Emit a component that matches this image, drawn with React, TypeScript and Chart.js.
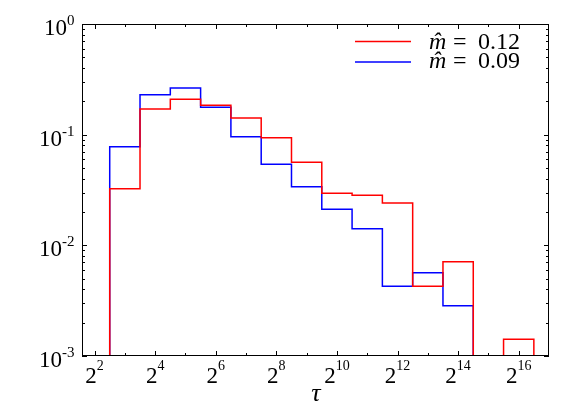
import { useEffect, useRef } from "react";
import { Chart, registerables } from "chart.js";

Chart.register(...registerables);

// Histogram bins centred on τ = 2^k, k = 3..16 (edges at 2^(k±0.5))
const binExponents = [3, 4, 5, 6, 7, 8, 9, 10, 11, 12, 13, 14, 15, 16];
const redValues = [0.0325, 0.171, 0.209, 0.184, 0.1415, 0.094, 0.0563, 0.0295, 0.0283, 0.0241, 0.00426, 0.0071, 0, 0.00142];
const blueValues = [0.0778, 0.23, 0.264, 0.177, 0.096, 0.054, 0.0339, 0.0212, 0.0141, 0.00426, 0.00566, 0.00285, 0, 0];
const seriesLabels = ["0.12", "0.09"];
const seriesColors = ["#ff0000", "#0000ff"];
const xTickExponents = [2, 4, 6, 8, 10, 12, 14, 16];
const xMinorExponents = [3, 5, 7, 9, 11, 13, 15];
const yTickExponents = [0, -1, -2, -3];
const X_MIN = 3;
const X_MAX = 131072;
const Y_MIN = 1e-3;
const Y_MAX = 1;
const ZERO_LEVEL = 1e-4; // below the visible range, clipped away

function buildSteps(values: number[]) {
  let last = values.length - 1;
  while (last >= 0 && values[last] === 0) last--;
  const pts: { x: number; y: number }[] = [];
  pts.push({ x: Math.pow(2, binExponents[0] - 0.5), y: ZERO_LEVEL });
  for (let i = 0; i <= last; i++) {
    pts.push({ x: Math.pow(2, binExponents[i] - 0.5), y: values[i] > 0 ? values[i] : ZERO_LEVEL });
  }
  pts.push({ x: Math.pow(2, binExponents[last] + 0.5), y: ZERO_LEVEL });
  return pts;
}

const SERIF = "'Liberation Serif', 'DejaVu Serif', serif";
const BASE_FONT = 23;
const SUP_FONT = 15;
const LEGEND_FONT = 24;

const decorPlugin = {
  id: "decor",
  afterDatasetsDraw(chart: any) {
    const ctx = chart.ctx as CanvasRenderingContext2D;
    const { left, right, top, bottom } = chart.chartArea;
    const xs = chart.scales.x;
    const ys = chart.scales.y;
    ctx.save();
    ctx.strokeStyle = "#000";
    ctx.lineWidth = 1;
    // frame
    ctx.strokeRect(left + 0.5, top + 0.5, right - left - 1, bottom - top - 1);
    // x ticks
    const xt = (e: number, len: number) => {
      const px = Math.round(xs.getPixelForValue(Math.pow(2, e))) + 0.5;
      ctx.beginPath();
      ctx.moveTo(px, bottom);
      ctx.lineTo(px, bottom - len);
      ctx.moveTo(px, top);
      ctx.lineTo(px, top + len);
      ctx.stroke();
    };
    xTickExponents.forEach((e) => xt(e, 5));
    xMinorExponents.forEach((e) => xt(e, 3));
    // y ticks
    const yt = (v: number, len: number) => {
      const py = Math.round(ys.getPixelForValue(v)) + 0.5;
      ctx.beginPath();
      ctx.moveTo(left, py);
      ctx.lineTo(left + len, py);
      ctx.moveTo(right, py);
      ctx.lineTo(right - len, py);
      ctx.stroke();
    };
    yTickExponents.forEach((e) => {
      yt(Math.pow(10, e), 5);
      if (e < 0) for (let m = 2; m <= 9; m++) yt(m * Math.pow(10, e), 3);
    });
    ctx.fillStyle = "#000";
    ctx.textBaseline = "alphabetic";
    ctx.textAlign = "left";
    // x tick labels
    xTickExponents.forEach((e) => {
      const px = xs.getPixelForValue(Math.pow(2, e));
      ctx.font = `${BASE_FONT}px ${SERIF}`;
      const bw = ctx.measureText("2").width;
      ctx.font = `${SUP_FONT - 1}px ${SERIF}`;
      const sw = ctx.measureText(String(e)).width;
      const x0 = px - (bw + sw) / 2;
      ctx.font = `${BASE_FONT}px ${SERIF}`;
      ctx.fillText("2", x0, bottom + 27);
      ctx.font = `${SUP_FONT - 1}px ${SERIF}`;
      ctx.fillText(String(e), x0 + bw, bottom + 14);
    });
    // y tick labels
    yTickExponents.forEach((e) => {
      const py = ys.getPixelForValue(Math.pow(10, e));
      const sup = e === 0 ? "0" : `-${-e}`;
      ctx.font = `${SUP_FONT}px ${SERIF}`;
      const sw = ctx.measureText(sup).width;
      ctx.font = `${BASE_FONT}px ${SERIF}`;
      const bw = ctx.measureText("10").width;
      const xEnd = left - 7.5;
      ctx.fillText("10", xEnd - sw - bw, py + 11);
      ctx.font = `${SUP_FONT}px ${SERIF}`;
      ctx.fillText(sup, xEnd - sw, py + 1);
    });
    // axis title
    ctx.font = `italic 26px ${SERIF}`;
    ctx.textAlign = "center";
    ctx.fillText("τ", (left + right) / 2 + 0.5, bottom + 45);
    // legend
    chart.data.datasets.forEach((ds: any, i: number) => {
      const ly = 41.5 + i * 20.5;
      const tb = 48.5 + i * 19;
      ctx.strokeStyle = ds.borderColor;
      ctx.lineWidth = 1.5;
      ctx.beginPath();
      ctx.moveTo(355, ly);
      ctx.lineTo(411, ly);
      ctx.stroke();
      ctx.textAlign = "left";
      ctx.font = `italic ${LEGEND_FONT}px ${SERIF}`;
      ctx.fillText("m\u0302", 429, tb);
      ctx.font = `${LEGEND_FONT}px ${SERIF}`;
      ctx.fillText("=", 453, tb);
      ctx.fillText(ds.label, 478, tb);
    });
    ctx.restore();
  },
};

export default function App() {
  const ref = useRef<HTMLCanvasElement | null>(null);
  useEffect(() => {
    document.body.style.margin = "0";
    const canvas = ref.current!;
    const chart = new Chart(canvas, {
      type: "line",
      data: {
        datasets: [redValues, blueValues].map((vals, i) => ({
          label: seriesLabels[i],
          data: buildSteps(vals),
          borderColor: seriesColors[i],
          backgroundColor: seriesColors[i],
          borderWidth: 1.5,
          stepped: "before" as const,
          pointRadius: 0,
          fill: false,
          clip: 0,
        })),
      },
      options: {
        responsive: false,
        animation: false,
        devicePixelRatio: 1,
        layout: { padding: { left: 82, right: 32, top: 24, bottom: 51 } },
        plugins: { legend: { display: false }, tooltip: { enabled: false } },
        scales: {
          x: { type: "logarithmic", min: X_MIN, max: X_MAX, display: false },
          y: { type: "logarithmic", min: Y_MIN, max: Y_MAX, display: false },
        },
      },
      plugins: [decorPlugin],
    });
    return () => chart.destroy();
  }, []);
  return (
    <div style={{ position: "absolute", left: 0, top: 0, width: 581, height: 407, background: "#fff" }}>
      <canvas ref={ref} width={581} height={407} />
    </div>
  );
}
